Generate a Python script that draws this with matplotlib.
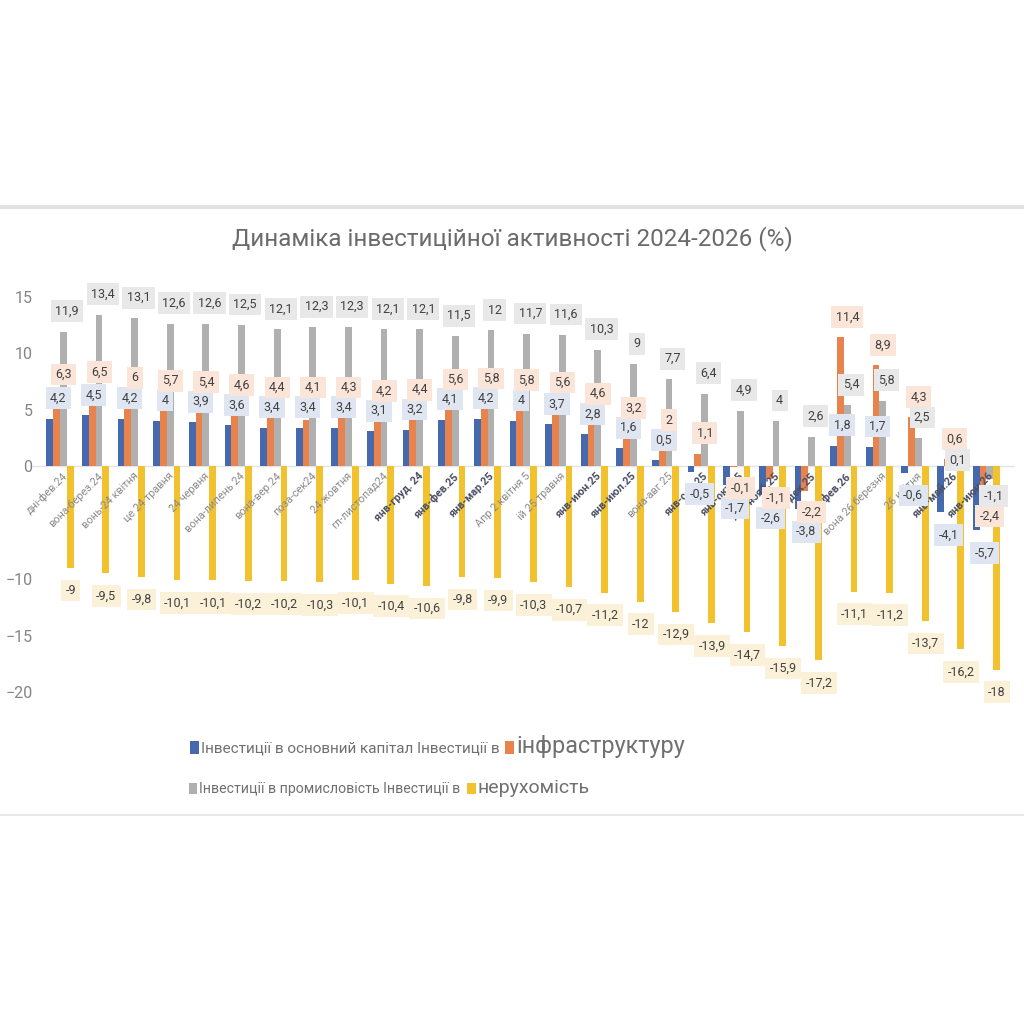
import matplotlib.pyplot as plt
from matplotlib.lines import Line2D
import numpy as np

plt.rcParams["font.family"] = ["Roboto", "DejaVu Sans"]

# Дані
periods = ["дні-фев.24", "вона-берез.24", "вонь-24 квітня", "це 24 травня", "24 червня",
           "вона-липень 24", "вона-вер.24", "поза-сек24", "24 жовтня", "гл-листопад24",
           "янв-груд. 24", "янв-фев.25", "янв-мар.25", "Апр 2 квітня 5", "ій 25 травня",
           "янв-июн.25", "янв-июл.25", "вона-авг.25", "янв-сен.25", "янв-окт.25",
           "янв-нояб.25", "янв-дек.25", "янв-фев.26", "вона 26 березня", "26 квітня",
           "янв-май.26", "янв-июн.26"]
capital = [4.2, 4.5, 4.2, 4, 3.9, 3.6, 3.4, 3.4, 3.4, 3.1, 3.2, 4.1, 4.2, 4, 3.7,
           2.8, 1.6, 0.5, -0.5, -1.7, -2.6, -3.8, 1.8, 1.7, -0.6, -4.1, -5.7]
infra = [6.3, 6.5, 6, 5.7, 5.4, 4.6, 4.4, 4.1, 4.3, 4.2, 4.4, 5.6, 5.8, 5.8, 5.6,
         4.6, 3.2, 2, 1.1, -0.1, -1.1, -2.2, 11.4, 8.9, 4.3, 0.6, -2.4]
industry = [11.9, 13.4, 13.1, 12.6, 12.6, 12.5, 12.1, 12.3, 12.3, 12.1, 12.1, 11.5, 12, 11.7, 11.6,
            10.3, 9, 7.7, 6.4, 4.9, 4, 2.6, 5.4, 5.8, 2.5, 0.1, -1.1]
realty = [-9, -9.5, -9.8, -10.1, -10.1, -10.2, -10.2, -10.3, -10.1, -10.4, -10.6, -9.8, -9.9, -10.3, -10.7,
          -11.2, -12, -12.9, -13.9, -14.7, -15.9, -17.2, -11.1, -11.2, -13.7, -16.2, -18]

series = [capital, infra, industry, realty]
colors = ["#4668AD", "#E8834E", "#B0B0B0", "#F2C12E"]
box_colors = ["#dfe5f1", "#fbe5d9", "#e8e8e8", "#fbf1d8"]
names = ["Інвестиції в основний капітал Інвестиції в", "інфраструктуру",
         "Інвестиції в промисловість Інвестиції в", "нерухомість"]


def fmt(v):
    s = f"{v:g}"
    return s.replace(".", ",")


fig = plt.figure(figsize=(10.24, 10.24), dpi=100)
ax = fig.add_axes([0.029, 0.302, 0.962, 0.425])

x = np.arange(len(periods))
w = 0.19
bars = []
for k, (vals, col) in enumerate(zip(series, colors)):
    b = ax.bar(x + (k - 1.5) * w, vals, width=w, color=col, zorder=2)
    bars.append(b)

# підписи значень (з розсуванням, щоб не накладались)
lbl_dx = [-0.05, 0.1, 0.2, 0.3]
gap = 1.75
for i in range(len(periods)):
    vals = [s[i] for s in series]
    ys = [v + 1.8 if v >= 0 else v - 2.0 for v in vals]
    b, o, g = ys[0], ys[1], ys[2]
    if vals[0] >= 0 and vals[1] >= 0 and o - b < gap:
        o = b + gap
    if vals[0] < 0 and vals[1] < 0 and abs(o - b) < gap:
        if vals[1] > vals[0]:
            o = b + gap
        else:
            o = b - gap
    if abs(g - o) < gap:
        g = o - gap - 0.1 if vals[2] < vals[1] else o + gap
    ys[1], ys[2] = o, g
    for k in range(4):
        ax.text(i + lbl_dx[k], ys[k], fmt(vals[k]), ha="center", va="center", fontsize=9,
                color="#404040", zorder=5 + k,
                bbox=dict(boxstyle="square,pad=0.35", fc=box_colors[k], ec="none"))

# підписи категорій
for i, p in enumerate(periods):
    bold = p.startswith("янв")
    ax.text(i + 0.05, -0.4, p, rotation=45, rotation_mode="anchor", ha="right", va="top",
            fontsize=7.8, color="#4a4f63" if bold else "#8a8a8a",
            fontweight="bold" if bold else "normal", zorder=4)

ax.axhline(0, color="#e4e4e4", lw=1, zorder=1)
ax.set_xlim(-0.85, 26.8)
ax.set_ylim(-22, 16.5)
ax.set_yticks([-20, -15, -10, 0, 5, 10, 15])
ax.tick_params(axis="y", length=0, labelsize=11.5, labelcolor="#858585", pad=-2)
ax.set_xticks([])
for s in ax.spines.values():
    s.set_visible(False)

fig.text(0.5, 0.767, "Динаміка інвестиційної активності 2024-2026 (%)", ha="center", va="center",
         fontsize=17.5, color="#6b6b6b")

# легенда у два рядки
leg1 = fig.legend([bars[0], bars[1]], [names[0], names[1]], ncol=2, loc="center left",
                  bbox_to_anchor=(0.172, 0.271), frameon=False, handlelength=0.6, handleheight=0.9,
                  handletextpad=0.1, columnspacing=0.4, fontsize=11)
leg1.get_texts()[0].set_color("#707070")
leg1.get_texts()[1].set_color("#707070")
leg1.get_texts()[1].set_fontsize(16.8)
leg2 = fig.legend([bars[2], bars[3]], [names[2], names[3]], ncol=2, loc="center left",
                  bbox_to_anchor=(0.172, 0.230), frameon=False, handlelength=0.6, handleheight=0.9,
                  handletextpad=0.1, columnspacing=0.5, fontsize=10.2)
leg2.get_texts()[0].set_color("#707070")
leg2.get_texts()[1].set_color("#707070")
leg2.get_texts()[1].set_fontsize(14)

# рамка області діаграми
fig.add_artist(Line2D([0, 1], [0.798, 0.798], color="#e2e2e2", lw=3))
fig.add_artist(Line2D([0, 1], [0.204, 0.204], color="#e8e8e8", lw=1.5))

fig.savefig("out.png", dpi=100, facecolor="white")
